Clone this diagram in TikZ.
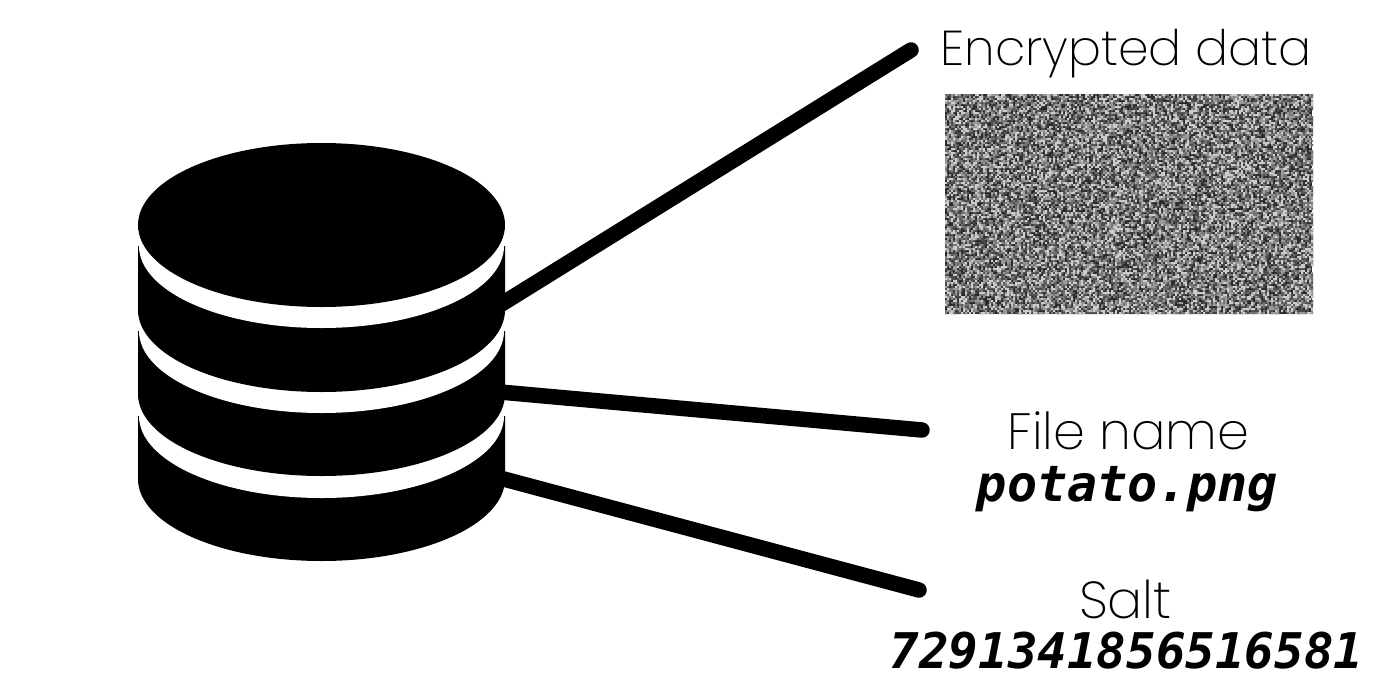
\documentclass[tikz,border=0pt]{standalone}
\usepackage{fontspec}
\setmainfont{Poppins ExtraLight}
\newfontfamily\monob[BoldItalicFont={DejaVu Sans Mono Bold Oblique}]{DejaVu Sans Mono}
\tikzset{
  wire/.style={line width=15.5pt,line cap=round,black},
  title/.style={font=\fontsize{51}{52}\selectfont,anchor=base,inner sep=0pt,text=black},
  value/.style={font=\fontsize{50}{50}\selectfont\monob\bfseries\itshape,anchor=base,inner sep=0pt,text=black},
}
\newcount\nrand \global\nrand=12345
\newcount\ntmp \newcount\ncol \newdimen\nxd \newdimen\nyd
\newcommand\noiserow[2]{%
  \nyd=\dimexpr -96pt-2pt*#1\relax
  \ncol=0
  \loop
    \global\nrand=\numexpr\nrand*25173+13849\relax
    \ntmp=\nrand \divide\ntmp by 65536
    \global\nrand=\numexpr\nrand-\ntmp*65536\relax
    \ifnum\nrand<#2
      \nxd=\dimexpr 945pt+2pt*\ncol\relax
      \pgfpathrectangle{\pgfqpoint{\nxd}{\nyd}}{\pgfqpoint{2pt}{2pt}}%
    \fi
    \advance\ncol 1
  \ifnum\ncol<184 \repeat
  \pgfusepath{fill}%
}
\begin{document}
\begin{tikzpicture}[x=1pt,y=-1pt]
\useasboundingbox (0,0) rectangle (1376,691);
% noise
\fill[black!84] (945,94) rectangle (1312,314);
\foreach \lev/\thr in {black!70/32768,black!55/21845,black!40/16384,black!20/13107}{
  \begin{pgfscope}
  \pgfsetfillcolor{\lev}
  \foreach \row in {0,...,109}{\noiserow{\row}{\thr}}
  \end{pgfscope}
}
% anchors
\coordinate (dbA) at (500,305);
\coordinate (dbB) at (500,392);
\coordinate (dbC) at (500,478);
\coordinate (endA) at (911,50);
\coordinate (endB) at (922,430);
\coordinate (endC) at (919,590);
\draw[wire] (dbA) -- (endA);
\draw[wire] (dbB) -- (endB);
\draw[wire] (dbC) -- (endC);
% cylinder
\def\rx{183.5}\def\ry{82}
\fill[black] (138,416) -- (138,479) arc[start angle=180,end angle=360,x radius=\rx,y radius=-\ry] -- (505,416) -- cycle;
\fill[white] (321.5,416) ellipse[x radius=182.5,y radius=82];
\fill[black] (138,331) -- (138,394) arc[start angle=180,end angle=360,x radius=\rx,y radius=-\ry] -- (505,331) -- cycle;
\fill[white] (321.5,331) ellipse[x radius=182.5,y radius=82];
\fill[black] (138,246) -- (138,310) arc[start angle=180,end angle=360,x radius=\rx,y radius=-\ry] -- (505,246) -- cycle;
\fill[white] (321.5,246) ellipse[x radius=182.5,y radius=82];
\fill[black] (321.5,225) ellipse[x radius=\rx,y radius=\ry];
% labels
\node[title,font=\fontsize{49}{50}\selectfont] (enc) at (1126,65.5) {Encrypted data};
\node[title] (file) at (1128.5,449.5) {File name};
\node[value] (fname) at (1127.5,501) {potato.png};
\node[title,font=\fontsize{52}{52}\selectfont] (salt) at (1125.5,618) {Salt};
\node[value,font=\fontsize{49.2}{50}\selectfont\monob\bfseries\itshape] (sval) at (1126.5,668) {7291341856516581};
\end{tikzpicture}
\end{document}
